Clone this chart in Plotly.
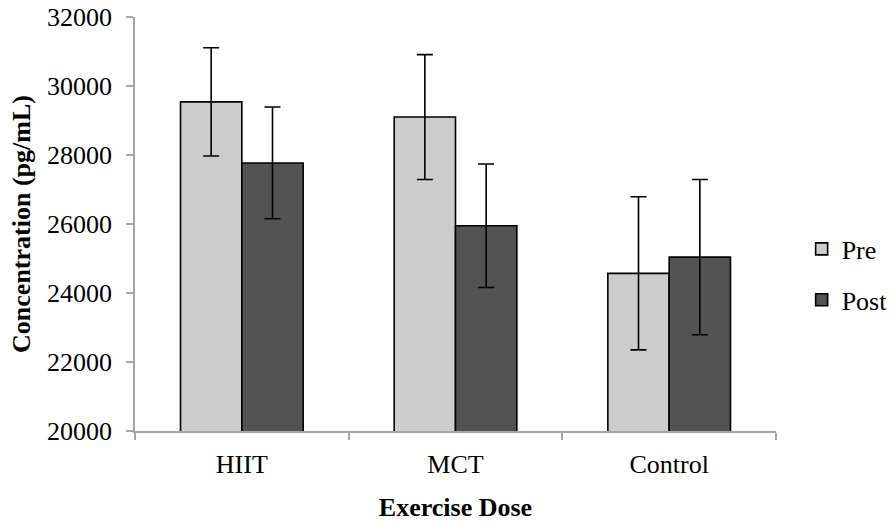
import plotly.graph_objects as go

# Exercise dose groups and concentration values (pg/mL)
categories = ["HIIT", "MCT", "Control"]
pre_mean = [29540, 29100, 24570]
pre_err = [1570, 1810, 2220]
post_mean = [27770, 25950, 25040]
post_err = [1620, 1790, 2250]

y_ticks = [20000, 22000, 24000, 26000, 28000, 30000, 32000]

FONT = "Liberation Serif, Times New Roman, serif"
AXIS_GRAY = "#a6a6a6"
FS = 26

err_style = dict(type="data", visible=True, color="black", thickness=1.6, width=8)

fig = go.Figure()
fig.add_trace(go.Bar(
    name="Pre", x=categories, y=pre_mean, legendgroup="pre",
    marker=dict(color="#cccccc", line=dict(color="black", width=1.6)),
    error_y=dict(array=pre_err, **err_style),
))
fig.add_trace(go.Bar(
    name="Post", x=categories, y=post_mean, legendgroup="post",
    marker=dict(color="#535353", line=dict(color="black", width=1.6)),
    error_y=dict(array=post_err, **err_style),
))

fig.update_layout(
    width=895, height=523,
    margin=dict(l=135, r=119, t=17, b=92, autoexpand=False),
    paper_bgcolor="white", plot_bgcolor="white",
    barmode="group", bargap=0.426, bargroupgap=0,
    font=dict(family=FONT, size=FS, color="black"),
    showlegend=True,
    legend=dict(
        x=1.04, y=0.378, xanchor="left", yanchor="middle",
        font=dict(family=FONT, size=FS, color="black"),
        tracegroupgap=14, bgcolor="rgba(0,0,0,0)",
    ),
    hovermode=False,
)

fig.update_xaxes(
    automargin=False,
    showline=True, linecolor=AXIS_GRAY, linewidth=1.5,
    ticks="outside", tickson="boundaries", ticklen=7, tickcolor=AXIS_GRAY, tickwidth=1.5,
    showgrid=False, zeroline=False,
    tickfont=dict(family=FONT, size=FS, color="black"),
    ticklabelstandoff=9,
    title=dict(text="<b>Exercise Dose</b>", font=dict(family=FONT, size=FS, color="black"), standoff=20),
)
fig.update_yaxes(
    automargin=False,
    range=[20000, 32000], tickvals=y_ticks, tickformat="d",
    showline=True, linecolor=AXIS_GRAY, linewidth=1.5,
    ticks="outside", ticklen=7, tickcolor=AXIS_GRAY, tickwidth=1.5,
    showgrid=False, zeroline=False,
    tickfont=dict(family=FONT, size=FS, color="black"),
    ticklabelstandoff=9,
    title=dict(text="<b>Concentration (pg/mL)</b>", font=dict(family=FONT, size=FS, color="black"), standoff=9),
)

fig.write_html("out.html")
